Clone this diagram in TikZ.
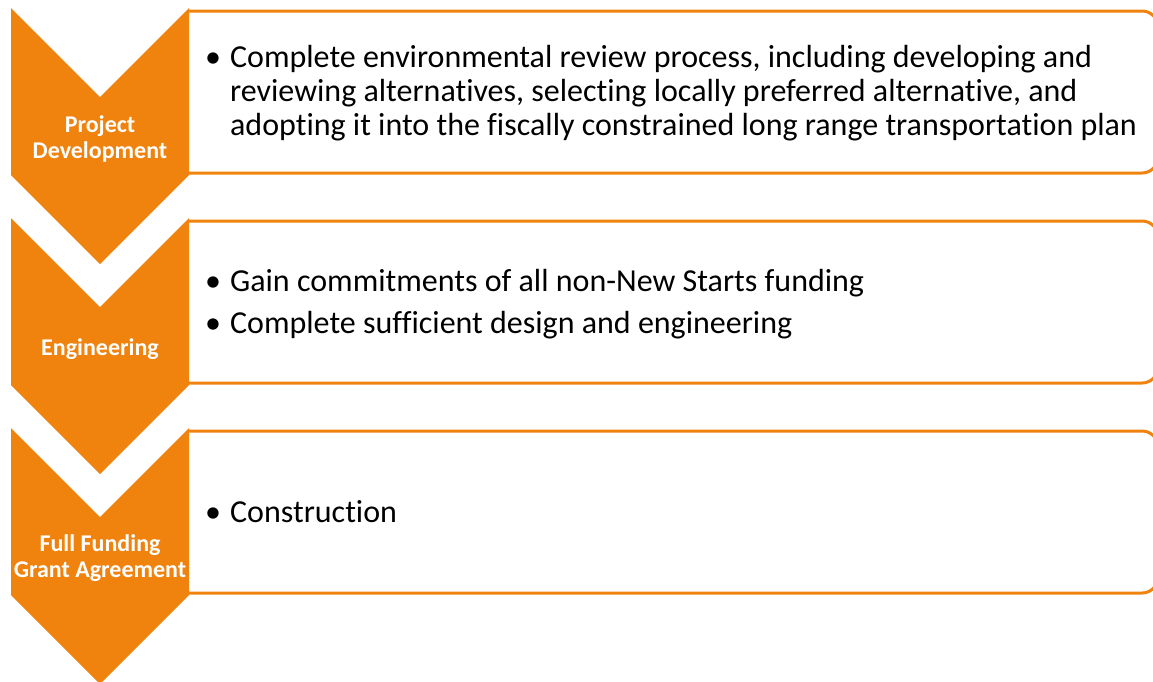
\documentclass[tikz,border=0pt]{standalone}
\usepackage{fontspec}
\setmainfont{Carlito}[Ligatures=NoCommon]
\definecolor{stageorange}{RGB}{240,130,14}
\tikzset{
  stagechevron/.style={fill=stageorange, draw=none},
  stagebox/.style={draw=stageorange, line width=3pt, fill=white, rounded corners=16pt},
  stagelabel/.style={text=white, font=\bfseries\fontsize{24}{26}\selectfont, align=center, inner sep=0pt},
  bodytext/.style={text=black, font=\fontsize{32}{34}\selectfont, anchor=west, inner sep=0pt},
}
\newcommand{\stagebullet}{\textbullet}
\begin{document}
\begin{tikzpicture}[x=1pt, y=-1pt]
  \useasboundingbox (0,0) rectangle (1153,681);
  \clip (0,0) rectangle (1153,681);

  % description boxes: only the right-hand corners stay rounded
  \begin{scope}
    \clip (189,0) rectangle (1153,681);
    \draw[stagebox] (160,11)  rectangle (1158,173);
    \draw[stagebox] (160,221) rectangle (1158,383);
    \draw[stagebox] (160,431) rectangle (1158,593);
  \end{scope}

  % chevrons
  \foreach \dy in {0,210,420} {
    \fill[stagechevron] (11,8+\dy) -- (100,97+\dy) -- (189,8+\dy) -- (189,175+\dy)
      -- (100,264+\dy) -- (11,175+\dy) -- cycle;
  }

  % chevron labels
  \node[stagelabel] (pd) at (100,139) {Project\\Development};
  \node[stagelabel] (en) at (100,349) {Engineering};
  \node[stagelabel] (ff) at (100,558) {Full Funding\\Grant Agreement};

  % box texts
  \node[bodytext] (t1) at (205,95) {\begin{tabular}{@{}l@{\hspace{9pt}}l@{}}
    \stagebullet & Complete environmental review process, including developing and\\
    & reviewing alternatives, selecting locally preferred alternative, and\\
    & adopting it into the fiscally constrained long range transportation plan
  \end{tabular}};
  \node[bodytext] (t2) at (205,305.5) {\begin{tabular}{@{}l@{\hspace{9pt}}l@{}}
    \stagebullet & Gain commitments of all non-New Starts funding\\[8pt]
    \stagebullet & Complete sufficient design and engineering
  \end{tabular}};
  \node[bodytext] (t3) at (205,516) {\begin{tabular}{@{}l@{\hspace{9pt}}l@{}}
    \stagebullet & Construction
  \end{tabular}};
\end{tikzpicture}
\end{document}
